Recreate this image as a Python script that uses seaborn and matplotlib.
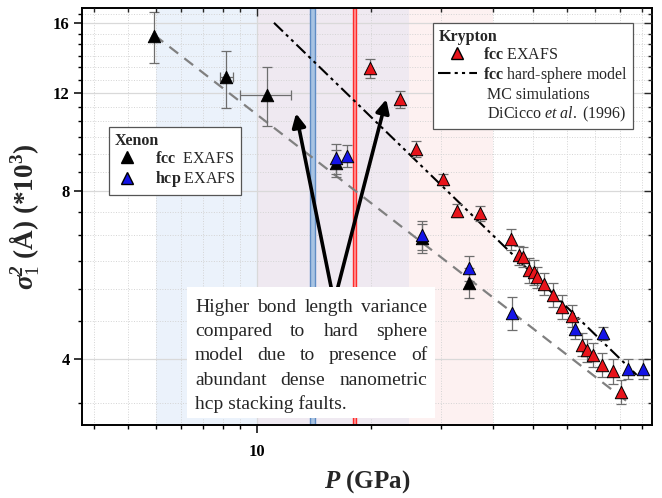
import numpy as np
import matplotlib
matplotlib.use("Agg")
import matplotlib.pyplot as plt
import seaborn as sns
from matplotlib.lines import Line2D
from matplotlib.patches import Rectangle

# ---- data (P in GPa, sigma^2 in 1e-3 A^2) ----
xe_fcc_p = [4.9, 8.2, 10.7, 16.3, 26.8, 35.0]
xe_fcc_s = [15.2, 12.8, 11.9, 8.97, 6.58, 5.48]
xe_fcc_serr = [1.6, 1.5, 1.45, 0.5, 0.4, 0.35]
xe_fcc_perr = [0.0, 0.35, 1.7, 0.0, 0.0, 0.0]

xe_hcp_p = [16.3, 17.4, 26.9, 35.0, 44.5, 62.8, 73.0, 83.6, 90.7]
xe_hcp_s = [9.16, 9.24, 6.66, 5.81, 4.84, 4.53, 4.44, 3.84, 3.83]
xe_hcp_serr = [0.57, 0.42, 0.4, 0.3, 0.33, 0.2, 0.12, 0.16, 0.16]

kr_fcc_p = [19.9, 23.7, 26.0, 30.3, 32.75, 37.2, 44.2, 46.3, 47.3, 48.9, 50.2,
            51.1, 53.1, 55.6, 58.4, 61.9, 65.3, 67.1, 69.3, 72.5, 77.2, 80.5]
kr_fcc_s = [13.3, 11.69, 9.51, 8.40, 7.38, 7.29, 6.55, 6.13, 6.09, 5.76, 5.72,
            5.60, 5.45, 5.21, 4.96, 4.78, 4.24, 4.14, 4.06, 3.90, 3.80, 3.49]
kr_fcc_serr = [0.52, 0.43, 0.32, 0.2, 0.2, 0.22, 0.28, 0.25, 0.25, 0.3, 0.3,
               0.25, 0.25, 0.25, 0.25, 0.22, 0.2, 0.2, 0.2, 0.2, 0.2, 0.17]

# guide lines (end points)
xe_fit_p = [4.93, 84.5]
xe_fit_s = [15.24, 3.32]
hs_model_p = [11.16, 87.6]
hs_model_s = [16.04, 3.74]

# shaded pressure ranges
band_blue = [5, 10]
band_purple = [10, 25]
band_pink = [25, 40]
bar_blue = [13.9, 14.4]
bar_red = [18.0, 18.35]

# arrows: tails and heads
arrow_tails = [(15.9, 5.3), (16.4, 5.3)]
arrow_heads = [(12.8, 11.03), (21.9, 11.69)]

x_minor = [3, 4, 5, 6, 7, 8, 9, 20, 30, 40, 50, 60, 70, 80, 90]
y_major = [4, 8, 12, 16]
y_labels = ["4", "8", "12", "16"]
y_minor = [10 / 3, 14 / 3, 16 / 3, 6, 20 / 3, 22 / 3, 26 / 3, 28 / 3, 10,
           32 / 3, 34 / 3, 38 / 3, 40 / 3, 14, 44 / 3, 46 / 3, 50 / 3]

note_lines = ["Higher bond length variance",
              "compared to hard sphere",
              "model due to presence of",
              "abundant dense nanometric",
              "hcp stacking faults."]

# ---- style ----
sns.set_style("white")
plt.rcParams["font.family"] = ["Liberation Serif", "DejaVu Serif"]
plt.rcParams["mathtext.fontset"] = "custom"
plt.rcParams["mathtext.rm"] = "Liberation Serif"
plt.rcParams["mathtext.it"] = "Liberation Serif:italic"
plt.rcParams["mathtext.bf"] = "Liberation Serif:bold"
plt.rcParams["mathtext.bfit"] = "Liberation Serif:italic:bold"


def fwd(p):
    return np.log10(np.asarray(p, dtype=float) + 2.2)


def inv(u):
    return 10 ** np.asarray(u, dtype=float) - 2.2


fig = plt.figure(figsize=(6.62, 4.98), dpi=100)
ax = fig.add_axes([0.1243, 0.1466, 0.8602, 0.8367])
ax.set_xscale("function", functions=(fwd, inv))
ax.set_yscale("log")
xlim = (2.68, 95.0)
ylim = (3.04, 17.03)
ax.set_xlim(*xlim)
ax.set_ylim(*ylim)

# background bands
ax.axvspan(*band_blue, color="#ebf2fb", lw=0, zorder=0.1)
ax.axvspan(*band_purple, color="#efe9f1", lw=0, zorder=0.1)
ax.axvspan(*band_pink, color="#fdf1f1", lw=0, zorder=0.1)
ax.axvspan(*bar_blue, facecolor="#a8c3e2", edgecolor="#5f8cc4", lw=1.0, zorder=1)
ax.axvspan(*bar_red, facecolor="#ff9c9c", edgecolor="#ff2a2a", lw=1.0, zorder=1)

# grid
ax.set_xticks([10], labels=["10"], fontweight="bold", fontsize=12)
ax.set_xticks(x_minor, minor=True)
ax.set_yticks(y_major, labels=y_labels, fontweight="bold", fontsize=12)
ax.set_yticks(y_minor, minor=True)
ax.yaxis.set_minor_formatter(matplotlib.ticker.NullFormatter())
ax.xaxis.set_minor_formatter(matplotlib.ticker.NullFormatter())
ax.grid(True, which="major", color="#d9d9d9", lw=0.9, zorder=0.5)
ax.grid(True, which="minor", color="#d4d4d4", lw=0.7, ls=":", zorder=0.5)
ax.set_axisbelow(True)

# guide lines
sns.lineplot(x=xe_fit_p, y=xe_fit_s, ax=ax, color="#808080", lw=1.6,
             linestyle=(0, (5, 3.5)), zorder=2)
sns.lineplot(x=hs_model_p, y=hs_model_s, ax=ax, color="black", lw=1.5,
             linestyle=(0, (6, 2, 1.5, 2, 1.5, 2)), zorder=2)

# error bars
ebar = dict(fmt="none", ecolor="#6e6e6e", elinewidth=0.9, capsize=3.5,
            capthick=0.9, zorder=3)
ax.errorbar(xe_fcc_p, xe_fcc_s, yerr=xe_fcc_serr, xerr=xe_fcc_perr, **ebar)
ax.errorbar(xe_hcp_p, xe_hcp_s, yerr=xe_hcp_serr, **ebar)
ax.errorbar(kr_fcc_p, kr_fcc_s, yerr=kr_fcc_serr, **ebar)

# markers
mk = dict(marker="^", s=80, edgecolor="black", linewidth=0.7, ax=ax, legend=False)
sns.scatterplot(x=xe_fcc_p, y=xe_fcc_s, color="black", zorder=4, **mk)
sns.scatterplot(x=kr_fcc_p, y=kr_fcc_s, color="#e8141b", zorder=5, **mk)
sns.scatterplot(x=xe_hcp_p, y=xe_hcp_s, color="#1414e6", zorder=6, **mk)

# arrows
for tail, head in zip(arrow_tails, arrow_heads):
    ax.annotate("", xy=head, xytext=tail, zorder=8,
                arrowprops=dict(arrowstyle="-|>", color="black", lw=2.6,
                                mutation_scale=20, shrinkA=0, shrinkB=0))

# note box with justified text
ax.add_patch(Rectangle((0.1834, 0.0161), 0.436, 0.3158, transform=ax.transAxes,
                       facecolor="white", edgecolor="none", zorder=10))
fig.canvas.draw()
renderer = fig.canvas.get_renderer()
axw = ax.get_window_extent(renderer).width
left_f, right_f = 0.198, 0.6055
base0, step = 0.2719, 0.0583
for i, line in enumerate(note_lines):
    y = base0 - i * step
    if i == len(note_lines) - 1:
        ax.text(left_f, y, line, transform=ax.transAxes, va="baseline",
                ha="left", fontsize=14, zorder=11)
        continue
    words = line.split()
    ts = [ax.text(0, y, w, transform=ax.transAxes, va="baseline", ha="left",
                  fontsize=14, zorder=11) for w in words]
    ws = [t.get_window_extent(renderer).width / axw for t in ts]
    gap = (right_f - left_f - sum(ws)) / (len(words) - 1)
    x = left_f
    for t, w in zip(ts, ws):
        t.set_x(x)
        x += w + gap

# legends
xe_handles = [
    Line2D([], [], marker="^", ls="none", color="black", markeredgecolor="black",
           markersize=8.5, label=r"$\mathbf{fcc}$  EXAFS"),
    Line2D([], [], marker="^", ls="none", color="#1414e6", markeredgecolor="black",
           markersize=8.5, label=r"$\mathbf{hcp}$ EXAFS"),
]
leg1 = ax.legend(handles=xe_handles, title="Xenon", loc="upper left",
                 bbox_to_anchor=(0.047, 0.715), borderaxespad=0, fontsize=11.5,
                 title_fontproperties={"weight": "bold", "size": 11.5},
                 alignment="left", frameon=True, fancybox=False,
                 edgecolor="#555555", framealpha=1, handlelength=1.6,
                 handletextpad=0.9, labelspacing=0.15, borderpad=0.35)
leg1.get_frame().set_linewidth(0.9)
leg1.set_zorder(12)
ax.add_artist(leg1)

kr_handles = [
    Line2D([], [], marker="^", ls="none", color="#e8141b", markeredgecolor="black",
           markersize=8.5, label=r"$\mathbf{fcc}$ EXAFS"),
    Line2D([], [], color="black", lw=1.5, ls=(0, (6, 2, 1.5, 2, 1.5, 2)),
           label=r"$\mathbf{fcc}$ hard-sphere model"),
    Line2D([], [], ls="none", label=" MC simulations"),
    Line2D([], [], ls="none", label=r" DiCicco $\mathit{et\ al.}$ (1996)"),
]
leg2 = ax.legend(handles=kr_handles, title="Krypton", loc="upper right",
                 bbox_to_anchor=(0.9677, 0.964), borderaxespad=0, fontsize=11.5,
                 title_fontproperties={"weight": "bold", "size": 11.5},
                 alignment="left", frameon=True, fancybox=False,
                 edgecolor="#555555", framealpha=1, handlelength=2.4,
                 handletextpad=0.4, labelspacing=0.12, borderpad=0.35)
leg2.get_frame().set_linewidth(0.9)
leg2.set_zorder(12)

# labels
ax.set_xlabel(r"$\mathbfit{P}$ (GPa)", fontsize=18, fontweight="bold", labelpad=6)
ax.set_ylabel(r"$\mathbfit{\sigma}^{\mathbfit{2}}_{\mathit{1}}$ (Å) (*10$^{\mathbf{3}}$)",
              fontsize=19.5, fontweight="bold", labelpad=8)

# ticks: out on bottom/left, in on top/right
for s in ax.spines.values():
    s.set_linewidth(1.4)
    s.set_color("black")
ax.tick_params(which="major", direction="out", length=5.5, width=1.1, colors="black")
ax.tick_params(which="minor", direction="out", length=3, width=1.0, colors="black")
ax.tick_params(axis="x", which="major", pad=8)

ax_top = ax.twiny()
ax_top.set_xscale("function", functions=(fwd, inv))
ax_top.set_xlim(*xlim)
ax_top.set_xticks([10])
ax_top.set_xticks(x_minor, minor=True)
ax_top.tick_params(which="both", direction="in", labeltop=False, width=1.0)
ax_top.tick_params(which="major", length=5.5)
ax_top.tick_params(which="minor", length=3)
ax_top.xaxis.set_minor_formatter(matplotlib.ticker.NullFormatter())

ax_r = ax.twinx()
ax_r.set_yscale("log")
ax_r.set_ylim(*ylim)
ax_r.set_yticks(y_major)
ax_r.set_yticks(y_minor, minor=True)
ax_r.tick_params(which="both", direction="in", labelright=False, width=1.0)
ax_r.tick_params(which="major", length=5.5)
ax_r.tick_params(which="minor", length=3)
ax_r.yaxis.set_minor_formatter(matplotlib.ticker.NullFormatter())
for a in (ax_top, ax_r):
    for s in a.spines.values():
        s.set_visible(False)

fig.savefig("out.png", dpi=100)
